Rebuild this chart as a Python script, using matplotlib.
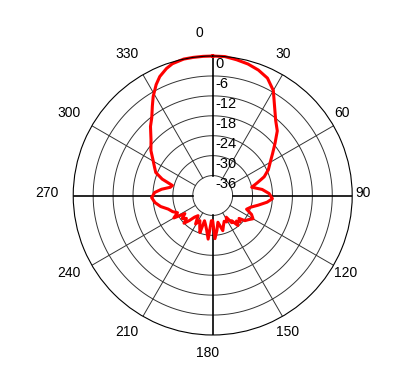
import numpy as np
import matplotlib.pyplot as plt

plt.rcParams['font.family'] = ['Liberation Sans', 'DejaVu Sans']

# radiation pattern (dB), angle in degrees clockwise from 0 at top
angles = [0, 5, 10, 15, 20, 25, 30, 35, 40, 45, 50, 55, 60, 65, 70, 74, 78,
          83, 88, 93, 97, 102, 107, 112, 116, 120, 124, 128, 131, 134, 137,
          140, 143, 145, 148, 152, 156, 160, 164, 169, 173, 177, 180, 183,
          186, 190, 194, 198, 199, 203, 207, 211, 216, 220, 223, 226, 229,
          233, 237, 240, 244, 248, 253, 258, 263, 268, 273, 277, 281, 284,
          288, 292, 296, 301, 306, 312, 318, 322, 326, 329, 333, 336, 340,
          343, 348, 352, 356, 360]
gain_db = [0, 0, -0.5, -1.0, -1.8, -3.0, -5.5, -9.5, -12.5, -14.5, -17.5, -20,
           -22, -23.5, -25.5, -28, -30, -27, -25, -24, -25.5, -28, -30, -31,
           -29, -28, -29, -29.7, -31.5, -30.5, -31.5, -30.2, -32.5, -32, -34.3,
           -33, -33.5, -32.5, -31, -33.8, -31.5, -29, -34.4, -34.4, -28.8,
           -31.5, -33, -34, -30.2, -32, -33.5, -32, -34.5, -33.5, -31.7, -30,
           -31.5, -30.5, -32, -28.5, -30.2, -29, -28, -26, -24.5, -23.6, -24.5,
           -26.5, -29, -29.5, -26, -23.5, -22.5, -21, -19, -17, -14, -12.2,
           -9.5, -7.2, -4.5, -2.8, -1.3, -0.5, 0, 0, 0, 0]

ring_levels = [0, -6, -12, -18, -24, -30, -36]
spoke_angles = list(range(0, 360, 30))

fig = plt.figure(figsize=(4.17, 3.89), dpi=100)
ax = fig.add_axes([0.5101 - 0.3345, 0.4974 - 0.3586, 0.669, 0.7172],
                  projection='polar')
ax.set_theta_zero_location('N')
ax.set_theta_direction(-1)
ax.set_ylim(-42, 0)
ax.grid(False)
ax.set_xticks([])
ax.set_yticks([])
ax.spines['polar'].set_linewidth(0.8)

# rings
full = np.linspace(0, 2 * np.pi, 721)
for lvl in ring_levels[1:]:
    ax.plot(full, np.full_like(full, lvl), color='#333333', lw=0.7)

# spokes
for a in spoke_angles:
    main = a % 90 == 0
    ax.plot([np.radians(a)] * 2, [-36, 0], color='black' if main else '#333333',
            lw=1.2 if main else 0.7)

# angle labels (anchored left of the spoke point, like the original)
for a in spoke_angles:
    ax.annotate(str(a), xy=(np.radians(a), 6.2), xytext=(-12.2, 1.8),
                textcoords='offset points', ha='left', va='center',
                fontsize=10, annotation_clip=False)

# radial labels
for lvl in ring_levels:
    ax.annotate(str(lvl), xy=(0, lvl), xytext=(2, -1), textcoords='offset points',
                ha='left', va='top', fontsize=10.5)

ax.plot(np.radians(angles), gain_db, color='red', lw=2.2, clip_on=False)

fig.savefig('out.png', dpi=100)
